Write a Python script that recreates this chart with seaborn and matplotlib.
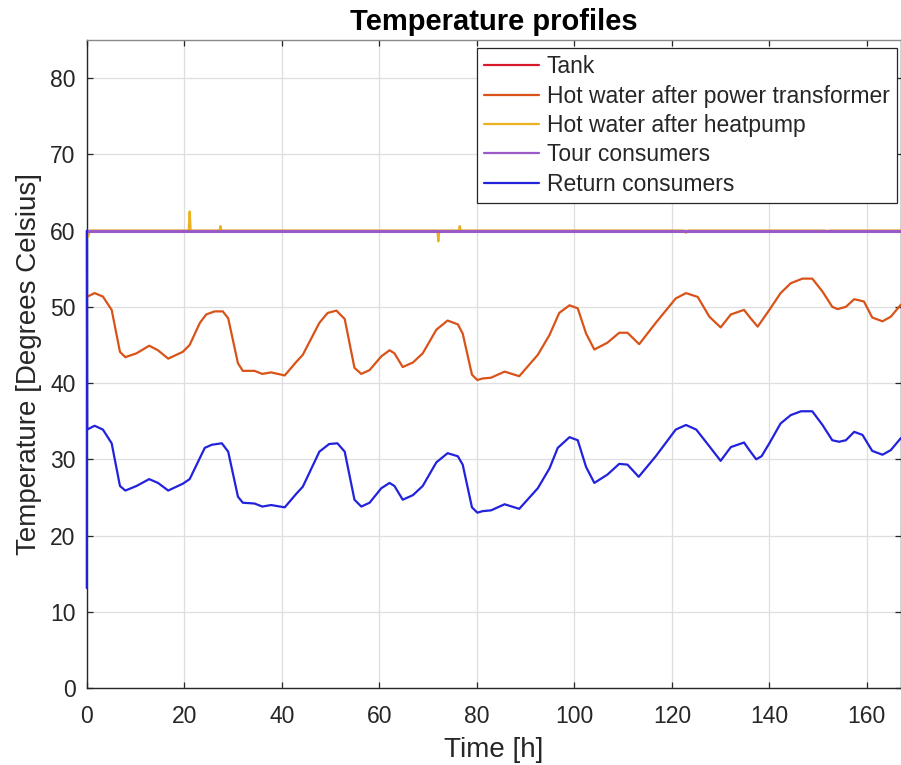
import matplotlib
matplotlib.use("Agg")
import matplotlib.pyplot as plt
import seaborn as sns
import pandas as pd

# ---------------- data ----------------
labels = ["Tank", "Hot water after power transformer", "Hot water after heatpump",
          "Tour consumers", "Return consumers"]
colors = ["#D7192B", "#D95319", "#EDB120", "#9B59C6", "#2222DD"]

tank_t = [0, 167]
tank_v = [60, 60]

tour_t = [0, 167]
tour_v = [60, 60]

heatpump_t = [0, 0.3, 0.6, 20.9, 21.1, 21.3, 27.2, 27.4, 27.6, 71.9, 72.1, 72.3,
              76.3, 76.5, 76.7, 122.4, 122.9, 123.4, 151.4, 151.9, 152.4, 167]
heatpump_v = [60, 59.2, 60, 60, 62.5, 60, 60, 60.6, 60, 60, 58.6, 60,
              60, 60.6, 60, 60, 59.7, 60, 60, 59.8, 60, 60]

transformer_t = [0, 1.6, 3.3, 5.1, 6.8, 7.9, 10.2, 12.8, 14.6, 16.7, 19.7, 21.1, 23.2,
                 24.5, 26.2, 27.9, 29.0, 31.0, 32.0, 34.4, 36.0, 37.8, 40.6, 43.0, 44.3,
                 47.7, 49.4, 51.2, 52.9, 54.9, 56.3, 58.0, 60.4, 62.1, 63.1, 64.8, 66.9,
                 68.9, 71.7, 74.0, 76.1, 77.1, 79.0, 80.1, 81.2, 82.9, 85.7, 88.7, 92.5,
                 94.9, 96.9, 99.0, 100.7, 102.4, 104.1, 106.8, 109.2, 110.9, 113.3, 116.7,
                 120.8, 122.9, 125.3, 127.7, 130.0, 132.1, 134.8, 135.9, 137.6, 140.0,
                 142.3, 144.4, 146.8, 148.8, 150.9, 152.9, 154.0, 155.7, 157.4, 159.4,
                 161.1, 163.2, 164.9, 167.0]
transformer_v = [51.3, 51.8, 51.35, 49.6, 44.1, 43.4, 43.9, 44.9, 44.3, 43.2, 44.1, 45.0, 47.9,
                 49.0, 49.4, 49.4, 48.5, 42.6, 41.6, 41.6, 41.2, 41.4, 41.0, 42.8, 43.7,
                 47.9, 49.2, 49.5, 48.4, 42.0, 41.2, 41.7, 43.5, 44.3, 43.9, 42.1, 42.7,
                 43.9, 47.0, 48.2, 47.7, 46.5, 41.1, 40.4, 40.6, 40.7, 41.5, 40.9, 43.7,
                 46.3, 49.2, 50.2, 49.8, 46.5, 44.4, 45.3, 46.6, 46.6, 45.1, 47.9,
                 51.1, 51.8, 51.3, 48.7, 47.3, 49.0, 49.6, 48.7, 47.4, 49.6,
                 51.8, 53.1, 53.7, 53.7, 52.0, 50.0, 49.7, 50.0, 51.0, 50.7,
                 48.6, 48.1, 48.7, 50.3]

return_t = [0, 0.03, 0.08, 1.6, 3.3, 5.1, 6.8, 7.9, 10.2, 12.8, 14.6, 16.7, 19.7, 21.1,
            24.2, 25.6, 27.7, 29.0, 31.0, 32.0, 34.4, 36.0, 37.8, 40.6, 43.0, 44.3,
            47.7, 49.7, 51.4, 52.9, 54.9, 56.3, 58.0, 60.4, 62.1, 63.1, 64.8, 66.9,
            68.9, 71.7, 74.0, 76.1, 77.1, 79.0, 80.1, 81.2, 82.9, 85.7, 88.7, 92.5,
            94.9, 96.6, 99.0, 100.7, 102.4, 104.1, 106.8, 109.2, 110.9, 113.2, 116.7,
            120.8, 122.9, 125.0, 127.7, 130.0, 132.1, 134.8, 135.9, 137.3, 138.4, 140.0,
            142.3, 144.4, 146.5, 148.8, 150.9, 152.9, 154.3, 155.7, 157.4, 159.1,
            161.1, 163.2, 164.9, 167.0]
return_v = [13.1, 60.0, 33.9, 34.4, 33.9, 32.1, 26.5, 25.9, 26.5, 27.4, 26.9, 25.9, 26.8, 27.4,
            31.5, 31.9, 32.1, 31.0, 25.1, 24.3, 24.2, 23.8, 24.0, 23.7, 25.5, 26.4,
            31.0, 32.0, 32.1, 31.0, 24.7, 23.8, 24.3, 26.2, 26.9, 26.5, 24.7, 25.3,
            26.5, 29.6, 30.8, 30.4, 29.3, 23.7, 23.0, 23.2, 23.3, 24.1, 23.5, 26.2,
            28.8, 31.5, 32.9, 32.5, 29.0, 26.9, 28.0, 29.4, 29.3, 27.7, 30.4,
            33.9, 34.5, 33.9, 31.7, 29.8, 31.6, 32.2, 31.2, 30.0, 30.4, 32.1,
            34.7, 35.8, 36.3, 36.3, 34.5, 32.5, 32.3, 32.5, 33.6, 33.2,
            31.1, 30.6, 31.2, 32.8]

x_ticks = [0, 20, 40, 60, 80, 100, 120, 140, 160]
y_ticks = [0, 10, 20, 30, 40, 50, 60, 70, 80]

# ---------------- styling ----------------
sns.set_style("whitegrid")
plt.rcParams["font.family"] = ["Liberation Sans", "DejaVu Sans"]

fig = plt.figure(figsize=(9.01, 7.65), dpi=100)
W, H = 901, 765
ax_left, ax_right, ax_top, ax_bot = 86.8, 901, 40, 688
ax = fig.add_axes([ax_left / W, 1 - ax_bot / H, (ax_right - ax_left) / W, (ax_bot - ax_top) / H])

series = [
    (tank_t, tank_v, 1.6),
    (transformer_t, transformer_v, 1.6),
    (heatpump_t, heatpump_v, 1.6),
    (tour_t, tour_v, 2.2),
    (return_t, return_v, 1.6),
]
for i, ((t, v, lw), lab, col) in enumerate(zip(series, labels, colors)):
    df = pd.DataFrame({"Time": t, "Temp": v})
    sns.lineplot(data=df, x="Time", y="Temp", ax=ax, color=col, linewidth=lw,
                 label=lab, estimator=None, sort=False, zorder=3 + i * 0.1)

# let the first return sample sit on top of the left spine, as in the reference
ax.lines[-1].set_clip_on(False)

ax.set_xlim(0, 167)
ax.set_ylim(0, 85)
ax.set_xticks(x_ticks)
ax.set_yticks(y_ticks)

ax.grid(True, color="#dedede", linewidth=0.9)
ax.set_axisbelow(True)
for side in ["left", "bottom", "top", "right"]:
    ax.spines[side].set_visible(True)
    ax.spines[side].set_color("#262626")
    ax.spines[side].set_linewidth(1.0)
ax.spines["top"].set_color("#8a8a8a")

ax.tick_params(axis="x", direction="in", length=4, width=0.9, color="#262626",
               labelsize=16.5, labelcolor="#262626", pad=12, top=True, bottom=True)
ax.tick_params(axis="y", direction="in", length=4, width=0.9, color="#262626",
               labelsize=16.5, labelcolor="#262626", pad=8, left=True, right=True)

ax.set_xlabel("Time [h]", fontsize=20, color="#262626", labelpad=7)
ax.set_ylabel("Temperature [Degrees Celsius]", fontsize=20, color="#262626", labelpad=6)
ax.set_title("Temperature profiles", fontsize=21, fontweight="bold", color="black", pad=7)

leg = ax.legend(loc="upper right", bbox_to_anchor=(896.7 / W, 1 - 48.3 / H),
                bbox_transform=fig.transFigure, borderaxespad=0, fontsize=16.5,
                frameon=True, fancybox=False, framealpha=1, edgecolor="#262626",
                handlelength=2.4, handletextpad=0.35, borderpad=0.3, labelspacing=0.28)
leg.set_zorder(10)
leg.get_frame().set_linewidth(0.9)
for line in leg.get_lines():
    line.set_linewidth(1.6)

fig.savefig("out.png", dpi=100)
